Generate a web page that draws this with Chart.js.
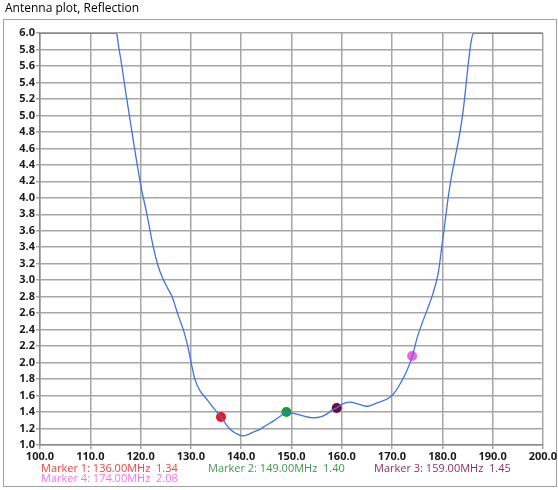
<!DOCTYPE html>
<html>
<head>
<meta charset="utf-8">
<script src="https://cdn.jsdelivr.net/npm/chart.js@4/dist/chart.umd.min.js"></script>
<style>
  html, body { margin: 0; padding: 0; background: #fff; }
  #wrap { width: 558px; height: 490px; }
</style>
</head>
<body>
<div id="wrap"><canvas id="myChart" width="558" height="490"></canvas></div>
<script>
// frequency (MHz) and reflection (SWR)
const freqs = [100, 115.2, 115.6, 116.2, 117.0, 117.9, 118.8, 119.5, 120.2, 121.2, 122.5, 123.5, 124.5, 125.4,
  126.2, 127.5, 128.5, 129.3, 129.8, 130.3, 130.8, 131.8, 133.1, 134.5, 135.8, 136.0, 137.0, 137.8, 139.0,
  140.4, 141.5, 142.5, 143.7, 145.0, 146.4, 147.8, 149.0, 150.0, 151.0, 152.5, 154.3, 155.8, 157.0, 158.0,
  159.0, 160.2, 161.6, 163.2, 164.9, 167.0, 169.6, 170.8, 171.6, 172.8, 174.0, 175.0, 176.0, 177.0, 178.2,
  179.2, 180.0, 181.5, 182.5, 183.5, 184.1, 184.6, 185.1, 185.8, 186.3, 200];
const swr = [6.0, 6.0, 5.85, 5.63, 5.30, 4.95, 4.60, 4.34, 4.10, 3.82, 3.41, 3.17, 3.01, 2.90,
  2.81, 2.57, 2.40, 2.22, 2.08, 1.93, 1.80, 1.66, 1.56, 1.45, 1.355, 1.34, 1.25, 1.19, 1.14,
  1.11, 1.13, 1.16, 1.19, 1.24, 1.29, 1.35, 1.40, 1.39, 1.375, 1.35, 1.33, 1.34, 1.375, 1.42,
  1.45, 1.50, 1.52, 1.50, 1.47, 1.51, 1.58, 1.66, 1.74, 1.88, 2.07, 2.30, 2.48, 2.64, 2.85,
  3.09, 3.45, 4.14, 4.47, 4.79, 5.03, 5.30, 5.59, 5.92, 6.0, 6.0];

// markers
const markerNames = ['Marker 1', 'Marker 2', 'Marker 3', 'Marker 4'];
const markerFreqs = [136, 149, 159, 174];
const markerValues = [1.34, 1.40, 1.45, 2.08];
const markerColors = ['#ff1010', '#13a030', '#6e0a3c', '#ff5ee0'];
const markerTextColors = ['#ff3b3b', '#3a9a4a', '#8e2e68', '#ff70f0'];

const curve = freqs.map((f, i) => ({ x: f, y: swr[i] }));
const markerPts = markerFreqs.map((f, i) => ({ x: f, y: markerValues[i] }));

const frame = {
  id: 'frame',
  beforeDraw(chart) {
    const c = chart.ctx;
    c.save();
    c.fillStyle = '#fff';
    c.fillRect(0, 0, chart.width, chart.height);
    c.strokeStyle = '#a0a0a0';
    c.lineWidth = 1;
    c.strokeRect(3.5, 19.5, 553, 467);
    c.fillStyle = '#000';
    c.font = '12px "Open Sans"';
    c.textBaseline = 'middle';
    c.fillText('Antenna plot, Reflection', 5, 9);
    c.restore();
  },
  afterDraw(chart) {
    const c = chart.ctx;
    c.save();
    c.font = '11px "Open Sans"';
    c.textBaseline = 'middle';
    const spots = [[41, 469], [208, 469], [374, 469], [41, 479]];
    markerNames.forEach((n, i) => {
      c.fillStyle = markerTextColors[i];
      c.fillText(n + ': ' + markerFreqs[i].toFixed(2) + 'MHz  ' + markerValues[i].toFixed(2), spots[i][0], spots[i][1]);
    });
    c.restore();
  }
};

const tickFont = { family: 'Open Sans', weight: 'bold', size: 11 };

new Chart(document.getElementById('myChart').getContext('2d'), {
  type: 'line',
  data: {
    datasets: [{
      data: curve,
      borderColor: '#3f72e4',
      borderWidth: 1.3,
      pointRadius: 0,
      cubicInterpolationMode: 'monotone',
      fill: false
    }, {
      data: markerPts,
      showLine: false,
      pointRadius: 5,
      pointBackgroundColor: markerColors,
      pointBorderColor: markerColors,
      pointBorderWidth: 0
    }]
  },
  plugins: [frame],
  options: {
    responsive: false,
    animation: false,
    layout: { padding: { left: 0, top: 33, right: 15, bottom: 0 } },
    plugins: { legend: { display: false }, tooltip: { enabled: false } },
    scales: {
      x: {
        type: 'linear',
        min: 100,
        max: 200,
        afterFit: s => { s.height = 45; },
        ticks: { stepSize: 10, padding: 1, color: '#1a1a1a', font: tickFont, maxRotation: 0,
          callback: v => v.toFixed(1) },
        grid: { color: '#a6a6a6', lineWidth: 1.5, tickLength: 4 },
        border: { color: '#8a8a8a', width: 1.5 }
      },
      y: {
        min: 1,
        max: 6,
        afterFit: s => { s.width = 40; },
        ticks: { stepSize: 0.2, padding: 1, color: '#1a1a1a', font: tickFont, autoSkip: false,
          callback: v => v.toFixed(1) },
        grid: { color: '#a6a6a6', lineWidth: 1.5, tickLength: 4 },
        border: { color: '#8a8a8a', width: 1.5 }
      }
    }
  }
});
</script>
</body>
</html>
